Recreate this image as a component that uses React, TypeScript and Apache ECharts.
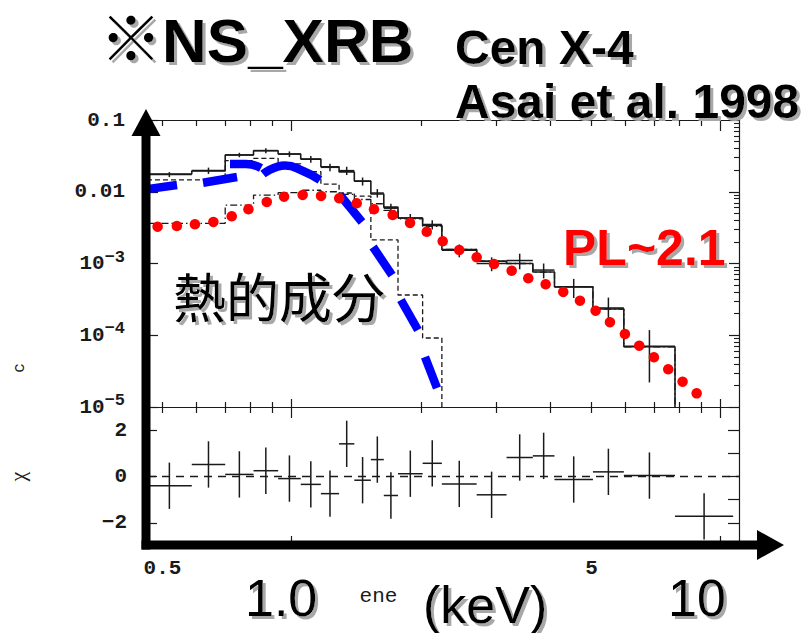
import React, { useEffect, useRef } from "react";
import * as echarts from "echarts";

// ---------------- data (energies in keV, flux in counts s^-1 keV^-1) ----------------
const binEdges = [0.46, 0.585, 0.70, 0.815, 0.93, 1.05, 1.17, 1.29, 1.40, 1.53, 1.64, 1.77, 2.02, 2.24, 2.70, 3.17, 3.65, 4.10, 5.04, 5.95, 7.83, 10.7];
const modelTotal = [0.0177, 0.0195, 0.0325, 0.0373, 0.0336, 0.0286, 0.0223, 0.0189, 0.0141, 0.0093, 0.0061, 0.0043, 0.0034, 0.00157, 0.00108, 0.00100, 0.00076, 0.000475, 0.000232, 0.000069];
const modelThermal = [0.0146, 0.0146, 0.0271, 0.0292, 0.0245, 0.0190, 0.0128, 0.0096, 0.0087, 0.00213, 0.00213, 0.000364, 0.0000916];
const modelPowerLaw = [0.00363, 0.00363, 0.00653, 0.0090, 0.0097, 0.0105, 0.0100, 0.0092, 0.0078, 0.0068, 0.0055, 0.0042, 0.0033, 0.00157, 0.00108, 0.00100, 0.00076, 0.000475, 0.000232, 0.000069];
const dataFlux = [0.0174, 0.0197, 0.0326, 0.0375, 0.0335, 0.0284, 0.0219, 0.0197, 0.0140, 0.0096, 0.0059, 0.0043, 0.0035, 0.00153, 0.00100, 0.00110, 0.00081, 0.00047, 0.000240, 0.000070];
const dataErr = [0.0014, 0.0020, 0.0023, 0.0030, 0.0030, 0.0031, 0.0026, 0.0026, 0.0018, 0.0013, 0.0009, 0.0006, 0.00052, 0.00031, 0.00022, 0.00027, 0.00019, 0.00014, 0.000095, 0.000048];
const residuals = [-0.40, 0.52, 0.09, 0.25, -0.09, -0.34, -0.74, 1.41, -0.16, 0.73, -0.82, 0.12, 0.57, -0.32, -0.79, 0.82, 0.89, -0.13, 0.20, 0.04, -1.72];

// hand-drawn annotation: power law (red dots)
const plDotE = [0.487, 0.540, 0.595, 0.657, 0.725, 0.793, 0.875, 0.960, 1.061, 1.171, 1.291, 1.418, 1.556, 1.720, 1.888, 2.065, 2.250, 2.459, 2.700, 2.963, 3.258, 3.562, 3.910, 4.298, 4.701, 5.113, 5.522, 5.984, 6.463, 6.993, 7.551, 8.155, 8.795];
const plDotF = [3.26e-3, 3.33e-3, 3.52e-3, 3.79e-3, 4.55e-3, 5.69e-3, 7.20e-3, 8.53e-3, 9.01e-3, 8.73e-3, 8.10e-3, 6.90e-3, 5.69e-3, 4.74e-3, 3.67e-3, 2.77e-3, 2.04e-3, 1.54e-3, 1.22e-3, 9.84e-4, 7.94e-4, 6.22e-4, 5.13e-4, 4.01e-4, 3.03e-4, 2.20e-4, 1.52e-4, 1.04e-4, 7.15e-5, 4.93e-5, 3.35e-5, 2.25e-5, 1.55e-5];
// hand-drawn annotation: thermal component (blue long dashes), each dash as [E, F] points
const thermalDashes: number[][][] = [
  [[0.4455, 0.01058], [0.5405, 0.01242]],
  [[0.6215, 0.01337], [0.746, 0.01605]],
  [[0.7183, 0.02437], [0.7825, 0.02437], [0.8484, 0.02143]],
  [[0.8576, 0.01767], [0.9649, 0.02322], [1.063, 0.01946], [1.164, 0.01458]],
  [[1.296, 0.00901], [1.459, 0.003789]],
  [[1.548, 0.001698], [1.714, 0.000691]],
  [[1.798, 0.00031], [1.970, 0.0001183]],
  [[2.046, 0.0000498], [2.182, 0.0000184]],
];

// axis ranges and ticks
const xRangeKeV = [0.4625, 11.04];
const fluxRange = [1e-5, 0.1];
const chiRange = [-3, 3];
const xMinorTicksKeV = [0.5, 0.6, 0.7, 0.8, 0.9, 2, 3, 4, 5, 6, 7, 8, 9];
const xMajorTicksKeV = [1, 10];
const xTickLabelsKeV = [0.5, 5];
const chiTickLabels = [-2, 0, 2];
const chiRightTicks = [-2, -1, 0, 1, 2];

// ---------------- helpers ----------------
const L = (v: number) => Math.log10(v);
const xMin = L(xRangeKeV[0]);
const xMax = L(xRangeKeV[1]);
const yMin = L(fluxRange[0]);
const yMax = L(fluxRange[1]);

const decadeMinor: number[] = [];
for (let n = Math.round(yMin); n < Math.round(yMax); n++) {
  for (let k = 2; k <= 9; k++) decadeMinor.push(n + L(k));
}
const decadeMajor: number[] = [];
for (let n = Math.round(yMin); n <= Math.round(yMax); n++) decadeMajor.push(n);

function stepPoints(values: number[]) {
  const n = values.length;
  const pts = values.map((v, i) => [L(binEdges[i]), L(v)]);
  pts.push([L(binEdges[n]), L(values[n - 1])]);
  pts.push([L(binEdges[n]), yMin - 1]);
  return pts;
}

const topCross = dataFlux.map((v, i) => {
  const lo = L(binEdges[i]);
  const hi = L(binEdges[i + 1]);
  return [lo, hi, (lo + hi) / 2, L(v), L(v - dataErr[i]), L(v + dataErr[i])];
});
const resCross = residuals.map((r, i) => {
  const lo = L(binEdges[i]);
  const hi = L(binEdges[i + 1]);
  return [lo, hi, (lo + hi) / 2, r, r - 1, r + 1];
});

const INK = "#1a1a1a";
const monoFont = '"Liberation Mono", "DejaVu Sans Mono", monospace';
const labelWeight = "bold";

function crossRenderer(params: any, api: any) {
  const a = api.coord([api.value(0), api.value(3)]);
  const b = api.coord([api.value(1), api.value(3)]);
  const c = api.coord([api.value(2), api.value(4)]);
  const d = api.coord([api.value(2), api.value(5)]);
  const style = { stroke: INK, lineWidth: 1.5, fill: null };
  return {
    type: "group",
    children: [
      { type: "line", shape: { x1: a[0], y1: a[1], x2: b[0], y2: b[1] }, style },
      { type: "line", shape: { x1: c[0], y1: c[1], x2: d[0], y2: d[1] }, style },
    ],
  };
}

function xAxisDef(gridIndex: number, position: string, ticks: number[], len: number, showLine: boolean, extra: any = {}) {
  return {
    type: "value",
    gridIndex,
    position,
    min: xMin,
    max: xMax,
    axisLine: { show: showLine, onZero: false, lineStyle: { color: INK, width: 1.2 } },
    axisTick: { show: true, inside: true, length: len, customValues: ticks, lineStyle: { color: INK, width: 1.2 } },
    axisLabel: { show: false },
    splitLine: { show: false },
    ...extra,
  };
}

const textShadow = {
  textShadowColor: "#a8a8a8",
  textShadowOffsetX: 3,
  textShadowOffsetY: 3,
  textShadowBlur: 1,
  shadowColor: "#a8a8a8",
  shadowOffsetX: 3,
  shadowOffsetY: 3,
  shadowBlur: 1,
};

function bigText(text: string, x: number, y: number, font: string, fill = "#000") {
  return {
    type: "text",
    z: 101,
    x,
    y,
    style: {
      text,
      font,
      fill,
      align: "left",
      textAlign: "left",
      verticalAlign: "middle",
      textVerticalAlign: "middle",
      ...textShadow,
    },
  };
}

const sansBold = (s: number) => `bold ${s}px "Liberation Sans", Arial, "Noto Sans CJK JP", sans-serif`;
const sansReg = (s: number) => `${s}px "Liberation Sans", Arial, "Noto Sans CJK JP", sans-serif`;

const option: any = {
  animation: false,
  backgroundColor: "#ffffff",
  textStyle: { fontFamily: monoFont },
  grid: [
    { left: 148, top: 120, width: 591, height: 287, outerBoundsMode: "none" },
    { left: 148, top: 407, width: 591, height: 139, outerBoundsMode: "none" },
  ],
  xAxis: [
    xAxisDef(0, "bottom", xMinorTicksKeV.map(L), 5, true),
    xAxisDef(0, "bottom", xMajorTicksKeV.map(L), 8, false),
    xAxisDef(0, "top", xMinorTicksKeV.map(L), 6, true),
    xAxisDef(0, "top", xMajorTicksKeV.map(L), 11, false),
    xAxisDef(1, "top", xMinorTicksKeV.map(L), 6, false),
    xAxisDef(1, "top", xMajorTicksKeV.map(L), 11, false),
    xAxisDef(1, "bottom", xMajorTicksKeV.map(L), 10, true, {
      axisLabel: {
        show: true,
        customValues: xTickLabelsKeV.map(L),
        formatter: (v: number) => String(Math.round(Math.pow(10, v) * 10) / 10),
        margin: 12,
        color: INK,
        fontFamily: monoFont,
        fontWeight: labelWeight,
        fontSize: 21,
      },
      name: "ene",
      nameLocation: "middle",
      nameGap: 40,
      nameTextStyle: { color: INK, fontFamily: monoFont, fontSize: 21, padding: [0, 130, 0, 0] },
    }),
  ],
  yAxis: [
    {
      type: "value",
      gridIndex: 0,
      position: "left",
      min: yMin,
      max: yMax,
      interval: 1,
      axisLine: { show: true, onZero: false, lineStyle: { color: INK, width: 1.2 } },
      axisTick: { show: true, inside: true, length: 10, lineStyle: { color: INK, width: 1.2 } },
      splitLine: { show: false },
      axisLabel: {
        show: true,
        margin: 23,
        align: "right",
        color: INK,
        fontFamily: monoFont,
        fontWeight: labelWeight,
        fontSize: 21,
        formatter: (v: number) => {
          const n = Math.round(v);
          if (n === -1) return "0.1";
          if (n === -2) return "0.01";
          return `{b|10}{s|\u2212${-n}}`;
        },
        rich: {
          b: { fontFamily: monoFont, fontWeight: labelWeight, fontSize: 21, lineHeight: 30, color: INK },
          s: { fontFamily: monoFont, fontWeight: labelWeight, fontSize: 17, lineHeight: 12, verticalAlign: "top", color: INK },
        },
      },
    },
    {
      type: "value",
      gridIndex: 0,
      position: "right",
      min: yMin,
      max: yMax,
      axisLine: { show: true, onZero: false, lineStyle: { color: INK, width: 1.2 } },
      axisTick: { show: true, inside: true, length: 5, customValues: decadeMinor, lineStyle: { color: INK, width: 1.1 } },
      axisLabel: { show: false },
      splitLine: { show: false },
    },
    {
      type: "value",
      gridIndex: 0,
      position: "right",
      min: yMin,
      max: yMax,
      axisLine: { show: false, onZero: false },
      axisTick: { show: true, inside: true, length: 10, customValues: decadeMajor, lineStyle: { color: INK, width: 1.2 } },
      axisLabel: { show: false },
      splitLine: { show: false },
    },
    {
      type: "value",
      gridIndex: 1,
      position: "left",
      min: chiRange[0],
      max: chiRange[1],
      axisLine: { show: true, onZero: false, lineStyle: { color: INK, width: 1.2 } },
      axisTick: { show: true, inside: true, length: 9, customValues: chiTickLabels, lineStyle: { color: INK, width: 1.2 } },
      splitLine: { show: false },
      axisLabel: {
        show: true,
        customValues: chiTickLabels,
        margin: 21,
        align: "right",
        color: INK,
        fontFamily: monoFont,
        fontWeight: labelWeight,
        fontSize: 21,
        formatter: (v: number) => (v < 0 ? `\u2212${-v}` : String(v)),
      },
      name: "χ",
      nameLocation: "middle",
      nameRotate: 90,
      nameGap: 120,
      nameTextStyle: { color: INK, fontFamily: '"Liberation Serif", "DejaVu Serif", serif', fontSize: 22 },
    },
    {
      type: "value",
      gridIndex: 1,
      position: "right",
      min: chiRange[0],
      max: chiRange[1],
      axisLine: { show: true, onZero: false, lineStyle: { color: INK, width: 1.2 } },
      axisTick: { show: true, inside: true, length: 11, customValues: chiRightTicks, lineStyle: { color: INK, width: 1.2 } },
      axisLabel: { show: false },
      splitLine: { show: false },
    },
  ],
  series: [
    {
      name: "model",
      type: "line",
      xAxisIndex: 0,
      yAxisIndex: 0,
      step: "end",
      symbol: "none",
      z: 3,
      lineStyle: { color: INK, width: 1.6 },
      data: stepPoints(modelTotal),
    },
    {
      name: "thermal model",
      type: "line",
      xAxisIndex: 0,
      yAxisIndex: 0,
      step: "end",
      symbol: "none",
      z: 2,
      lineStyle: { color: INK, width: 1.3, type: [5, 3] },
      data: stepPoints(modelThermal),
    },
    {
      name: "power-law model",
      type: "line",
      xAxisIndex: 0,
      yAxisIndex: 0,
      step: "end",
      symbol: "none",
      z: 2,
      lineStyle: { color: INK, width: 1.3, type: [7, 3, 1.5, 3] },
      data: stepPoints(modelPowerLaw),
    },
    {
      name: "data",
      type: "custom",
      xAxisIndex: 0,
      yAxisIndex: 0,
      z: 3,
      clip: true,
      renderItem: crossRenderer,
      encode: { x: [0, 1, 2], y: [3, 4, 5] },
      data: topCross,
    },
    {
      name: "zero",
      type: "line",
      xAxisIndex: 6,
      yAxisIndex: 3,
      symbol: "none",
      z: 2,
      lineStyle: { color: INK, width: 1.3, type: [8, 6] },
      data: [[xMin, 0], [xMax, 0]],
    },
    {
      name: "residuals",
      type: "custom",
      xAxisIndex: 6,
      yAxisIndex: 3,
      z: 3,
      clip: true,
      renderItem: crossRenderer,
      encode: { x: [0, 1, 2], y: [3, 4, 5] },
      data: resCross,
    },
    ...thermalDashes.map((dash, i) => ({
      name: i === 0 ? "熱的成分" : `熱的成分-${i}`,
      type: "line",
      xAxisIndex: 0,
      yAxisIndex: 0,
      symbol: "none",
      smooth: dash.length > 2 ? 0.5 : false,
      z: 5,
      lineStyle: { color: "#0000ff", width: 8.5, cap: "butt" },
      data: dash.map((p) => [L(p[0]), L(p[1])]),
    })),
    {
      name: "PL~2.1",
      type: "scatter",
      xAxisIndex: 0,
      yAxisIndex: 0,
      symbol: "circle",
      symbolSize: 10.5,
      z: 6,
      itemStyle: { color: "#ff0000", opacity: 1 },
      data: plDotE.map((e, i) => [L(e), L(plDotF[i])]),
    },
  ],
  graphic: [
    { type: "rect", z: 100, shape: { x: 141.5, y: 128, width: 9, height: 421.5 }, style: { fill: "#000" } },
    { type: "polygon", z: 100, shape: { points: [[131.5, 136], [160.5, 136], [146, 109]] }, style: { fill: "#000" } },
    { type: "rect", z: 100, shape: { x: 141.5, y: 540.5, width: 618, height: 9 }, style: { fill: "#000" } },
    { type: "polygon", z: 100, shape: { points: [[757, 530], [757, 560], [784, 545]] }, style: { fill: "#000" } },
    bigText("※NS_XRB", 100, 40, sansBold(62)),
    bigText("Cen X-4", 455, 47, sansBold(48)),
    bigText("Asai et al. 1998", 455, 101, sansBold(48)),
    bigText("熱的成分", 173, 295, '53px "Noto Sans CJK JP", sans-serif'),
    bigText("PL~2.1", 563, 248, sansBold(50), "#ff0000"),
    bigText("1.0", 245, 598, sansReg(52)),
    bigText("(keV)", 423, 605, sansReg(52)),
    bigText("10", 668, 598, sansReg(52)),
    {
      type: "text",
      z: 101,
      x: 20,
      y: 368,
      rotation: Math.PI / 2,
      style: { text: "c", font: `16px ${monoFont}`, fill: INK, align: "center", textAlign: "center", verticalAlign: "middle", textVerticalAlign: "middle" },
    },
  ],
};

export default function App() {
  const ref = useRef<HTMLDivElement>(null);
  useEffect(() => {
    if (!ref.current) return;
    const chart = echarts.init(ref.current, null, { renderer: "svg", width: 802, height: 633 });
    chart.setOption(option);
    return () => chart.dispose();
  }, []);
  return (
    <div
      ref={ref}
      style={{ position: "absolute", left: 0, top: 0, width: 802, height: 633, background: "#fff" }}
    />
  );
}
